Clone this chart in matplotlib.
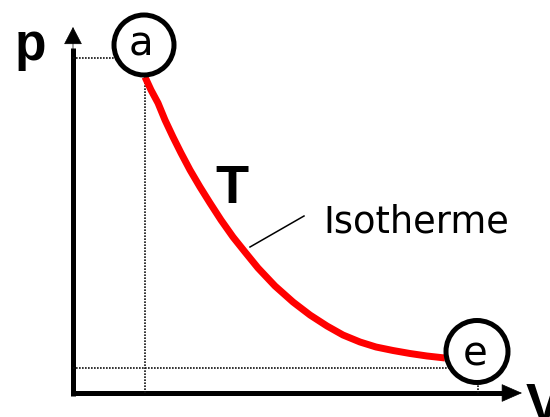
import matplotlib.pyplot as plt
from matplotlib.patches import Circle

# isotherm (V to the right of the p axis, p above the V axis)
volume = [72, 78, 85, 92, 100, 108, 117, 127, 137, 148, 160, 172, 185, 202, 220,
          237, 254, 270, 287, 303, 320, 337, 354, 372]
pressure = [316, 303, 290, 273, 256, 240, 223, 206, 190, 173, 156, 141, 125, 107, 91,
            78, 67, 58, 51, 46, 42.5, 39.5, 37, 35]

state_a = (71, 348)
state_e = (404, 41.5)
p_a, v_a = 335, 72
p_e, v_e = 25, 405

fig = plt.figure(figsize=(5.5, 4.17), dpi=100)
ax = fig.add_axes([0, 0, 1, 1])
ax.set_xlim(-73, 477)
ax.set_ylim(-24, 393)
ax.axis("off")

# axes with arrows
ax.plot([0, 0], [-3, 345], color="k", lw=3.6, solid_capstyle="butt")
ax.plot([-2, 435], [0, 0], color="k", lw=3.6, solid_capstyle="butt")
ax.annotate("", xy=(0, 366), xytext=(0, 340),
            arrowprops=dict(arrowstyle="-|>,head_length=1.15,head_width=0.6",
                            color="k", lw=0.5, mutation_scale=10, shrinkA=0, shrinkB=0))
ax.annotate("", xy=(449, 0), xytext=(420, 0),
            arrowprops=dict(arrowstyle="-|>,head_length=1.37,head_width=0.6",
                            color="k", lw=0.5, mutation_scale=10, shrinkA=0, shrinkB=0))

# dotted guides
dot = dict(color="#111111", lw=1.2, linestyle=(0, (1, 0.8)))
ax.plot([0, state_a[0]], [p_a, p_a], **dot)
ax.plot([v_a, v_a], [0, p_a], **dot)
ax.plot([0, state_e[0]], [p_e, p_e], **dot)
ax.plot([v_e, v_e], [0, p_e], **dot)

# isotherm
ax.plot(volume, pressure, color="#ff0000", lw=5, solid_capstyle="butt", zorder=3)

# states
for centre, r in [(state_a, 30), (state_e, 31)]:
    ax.add_patch(Circle(centre, r, facecolor="white", edgecolor="k", lw=3.6, zorder=5))
ax.text(68, 338, "a", fontsize=29, family="DejaVu Sans", ha="center", va="baseline", zorder=6)
ax.text(402, 28, "e", fontsize=29, family="DejaVu Sans", ha="center", va="baseline", zorder=6)

# labels
bold = dict(family="Liberation Sans", fontweight="bold", ha="left", va="baseline")
ax.text(-58, 333, "p", fontsize=37, **bold)
ax.text(142, 190, "T", fontsize=39, **bold)
ax.text(453, -28, "V", fontsize=39, **bold)
ax.text(250, 161, "Isotherme", fontsize=26.5, family="DejaVu Sans", ha="left", va="baseline")
ax.plot([177, 231], [146, 177], color="k", lw=1.1)

fig.savefig("out.png", dpi=100)
